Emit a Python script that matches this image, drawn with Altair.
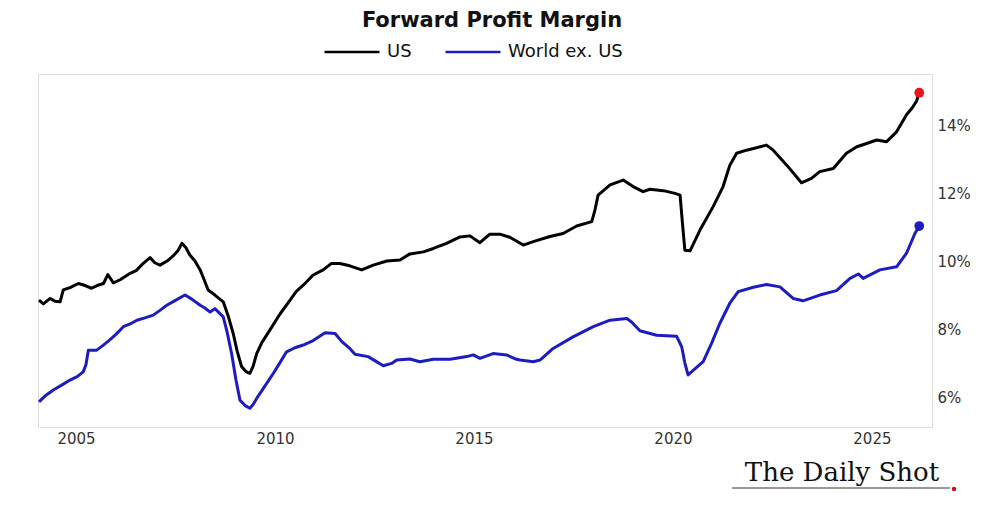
import altair as alt
import pandas as pd

# ---- data (decimal years, % margin) ----
us_year = [2004.07, 2004.18, 2004.35, 2004.47, 2004.60, 2004.68, 2004.85, 2005.06, 2005.23, 2005.39,
           2005.53, 2005.69, 2005.80, 2005.94, 2006.11, 2006.36, 2006.51, 2006.69, 2006.86, 2006.98,
           2007.11, 2007.29, 2007.44, 2007.56, 2007.66, 2007.76, 2007.86, 2007.99, 2008.12, 2008.22,
           2008.32, 2008.49, 2008.70, 2008.82, 2008.95, 2009.05, 2009.16, 2009.27, 2009.37, 2009.45,
           2009.54, 2009.67, 2009.87, 2010.13, 2010.38, 2010.53, 2010.71, 2010.96, 2011.21, 2011.42,
           2011.63, 2011.88, 2012.18, 2012.47, 2012.81, 2013.14, 2013.39, 2013.73, 2013.98, 2014.31,
           2014.65, 2014.90, 2015.15, 2015.40, 2015.65, 2015.90, 2016.24, 2016.49, 2016.91, 2017.24,
           2017.58, 2017.96, 2018.04, 2018.12, 2018.42, 2018.75, 2019.00, 2019.25, 2019.42, 2019.76,
           2020.05, 2020.18, 2020.24, 2020.30, 2020.43, 2020.68, 2021.01, 2021.26, 2021.43, 2021.60,
           2021.85, 2022.10, 2022.35, 2022.52, 2022.86, 2023.23, 2023.48, 2023.69, 2024.03, 2024.36,
           2024.62, 2024.85, 2025.12, 2025.37, 2025.62, 2025.87, 2026.01, 2026.12, 2026.19]
us_val = [8.85, 8.74, 8.90, 8.82, 8.80, 9.15, 9.22, 9.34, 9.28, 9.20,
          9.28, 9.34, 9.60, 9.36, 9.45, 9.64, 9.72, 9.93, 10.10, 9.95,
          9.88, 10.00, 10.15, 10.30, 10.52, 10.40, 10.18, 10.00, 9.74, 9.45,
          9.15, 9.00, 8.80, 8.40, 7.87, 7.35, 6.90, 6.75, 6.70, 6.90,
          7.28, 7.60, 7.97, 8.45, 8.85, 9.10, 9.29, 9.59, 9.74, 9.93,
          9.93, 9.86, 9.74, 9.88, 10.00, 10.03, 10.21, 10.27, 10.37, 10.52,
          10.71, 10.74, 10.54, 10.79, 10.79, 10.70, 10.47, 10.57, 10.72, 10.81,
          11.03, 11.16, 11.50, 11.94, 12.24, 12.38, 12.19, 12.04, 12.11, 12.07,
          11.99, 11.94, 11.10, 10.32, 10.30, 10.91, 11.60, 12.19, 12.82, 13.17,
          13.26, 13.33, 13.41, 13.26, 12.82, 12.30, 12.43, 12.63, 12.72, 13.17,
          13.36, 13.45, 13.56, 13.51, 13.80, 14.30, 14.50, 14.70, 14.95]

wd_year = [2004.07, 2004.22, 2004.43, 2004.65, 2004.85, 2005.03, 2005.18, 2005.25, 2005.31, 2005.52,
           2005.68, 2005.85, 2006.01, 2006.19, 2006.36, 2006.53, 2006.73, 2006.94, 2007.11, 2007.28,
           2007.51, 2007.74, 2007.91, 2008.12, 2008.24, 2008.37, 2008.49, 2008.70, 2008.79, 2008.91,
           2009.02, 2009.12, 2009.25, 2009.37, 2009.45, 2009.54, 2009.75, 2009.96, 2010.13, 2010.29,
           2010.50, 2010.71, 2010.96, 2011.26, 2011.51, 2011.68, 2011.88, 2012.01, 2012.34, 2012.54,
           2012.72, 2012.93, 2013.06, 2013.39, 2013.64, 2013.98, 2014.40, 2014.82, 2014.98, 2015.15,
           2015.48, 2015.82, 2016.07, 2016.16, 2016.49, 2016.66, 2016.99, 2017.49, 2018.00, 2018.42,
           2018.84, 2018.96, 2019.17, 2019.59, 2020.09, 2020.22, 2020.30, 2020.38, 2020.76, 2020.97,
           2021.18, 2021.43, 2021.64, 2022.02, 2022.35, 2022.69, 2023.02, 2023.27, 2023.69, 2024.11,
           2024.45, 2024.66, 2024.78, 2025.20, 2025.62, 2025.87, 2026.08, 2026.19]
wd_val = [5.86, 6.03, 6.21, 6.36, 6.50, 6.60, 6.74, 6.95, 7.38, 7.38,
          7.52, 7.68, 7.85, 8.07, 8.15, 8.26, 8.33, 8.41, 8.55, 8.70,
          8.85, 9.00, 8.88, 8.70, 8.62, 8.50, 8.60, 8.36, 7.95, 7.28,
          6.50, 5.91, 5.75, 5.67, 5.78, 5.96, 6.33, 6.70, 7.02, 7.33,
          7.45, 7.53, 7.66, 7.89, 7.87, 7.63, 7.43, 7.26, 7.19, 7.05,
          6.92, 6.99, 7.09, 7.12, 7.04, 7.11, 7.11, 7.19, 7.24, 7.14,
          7.28, 7.24, 7.11, 7.09, 7.04, 7.09, 7.43, 7.77, 8.07, 8.26,
          8.31, 8.21, 7.95, 7.82, 7.79, 7.48, 7.00, 6.65, 7.04, 7.58,
          8.17, 8.76, 9.10, 9.23, 9.31, 9.24, 8.90, 8.83, 9.00, 9.13,
          9.49, 9.62, 9.49, 9.74, 9.83, 10.23, 10.81, 11.03]

series_names = ["US", "World ex. US"]
x_ticks = [2005, 2010, 2015, 2020, 2025]
y_ticks = [6, 8, 10, 12, 14]

df = pd.concat([
    pd.DataFrame({"year": us_year, "value": us_val, "series": series_names[0]}),
    pd.DataFrame({"year": wd_year, "value": wd_val, "series": series_names[1]}),
])
end_us = pd.DataFrame({"year": [us_year[-1]], "value": [us_val[-1]]})
end_wd = pd.DataFrame({"year": [wd_year[-1]], "value": [wd_val[-1]]})
logo = pd.DataFrame({"t": ["The Daily Shot"]})

FONT = "DejaVu Sans"
xscale = alt.Scale(domain=[2004.045, 2026.51], nice=False, zero=False)
yscale = alt.Scale(domain=[5.12, 15.5], nice=False, zero=False)

xax = alt.Axis(values=x_ticks, format="d", title=None, ticks=False, domain=False, grid=False,
               labelPadding=4, labelFontSize=15, labelColor="#333333", labelFont=FONT)
yax = alt.Axis(values=y_ticks, orient="right", title=None, ticks=False, domain=False, grid=False,
               labelExpr="datum.value + '%'", labelPadding=5, labelFontSize=15,
               labelColor="#333333", labelFont=FONT)

lines = alt.Chart(df).mark_line(strokeWidth=3, strokeJoin="round").encode(
    x=alt.X("year:Q", scale=xscale, axis=xax),
    y=alt.Y("value:Q", scale=yscale, axis=yax),
    color=alt.Color("series:N",
                    scale=alt.Scale(domain=series_names, range=["#000000", "#1d1dbf"]),
                    legend=alt.Legend(title=None, orient="none", legendX=285, legendY=-51,
                                      direction="horizontal", symbolType="stroke",
                                      symbolSize=3025, symbolStrokeWidth=2.6,
                                      labelFontSize=18, labelFont=FONT, labelColor="#111111",
                                      labelOffset=6, columnPadding=28, padding=0)),
    detail="series:N",
)

dot_us = alt.Chart(end_us).mark_circle(size=95, opacity=1, color="#e8141a").encode(
    x=alt.X("year:Q", scale=xscale), y=alt.Y("value:Q", scale=yscale))
dot_wd = alt.Chart(end_wd).mark_circle(size=95, opacity=1, color="#1d1dbf").encode(
    x=alt.X("year:Q", scale=xscale), y=alt.Y("value:Q", scale=yscale))

logo_text = alt.Chart(logo).mark_text(font="DejaVu Serif", fontSize=26, align="center",
                                      baseline="alphabetic", color="#111111").encode(
    text="t:N", x=alt.value(804), y=alt.value(407))
logo_line = alt.Chart(logo).mark_rule(color="#333333", strokeWidth=1).encode(
    x=alt.value(694), x2=alt.value(912), y=alt.value(414))
logo_dot = alt.Chart(logo).mark_circle(size=20, opacity=1, color="#d01010").encode(
    x=alt.value(916), y=alt.value(415))

chart = alt.layer(lines, dot_us, dot_wd, logo_text, logo_line, logo_dot).properties(
    width=894, height=353,
    title=alt.Title("Forward Profit Margin", font=FONT, fontSize=21, fontWeight="bold",
                    color="#111111", anchor="middle", dx=7, offset=-8),
    autosize=alt.AutoSizeParams(type="none"),
    padding={"left": 30, "top": 66, "right": 43, "bottom": 72},
).configure_view(stroke="#dddddd", strokeWidth=1.5).configure(background="white")

chart.save("out.html", embed_options={"renderer": "svg", "actions": False})
